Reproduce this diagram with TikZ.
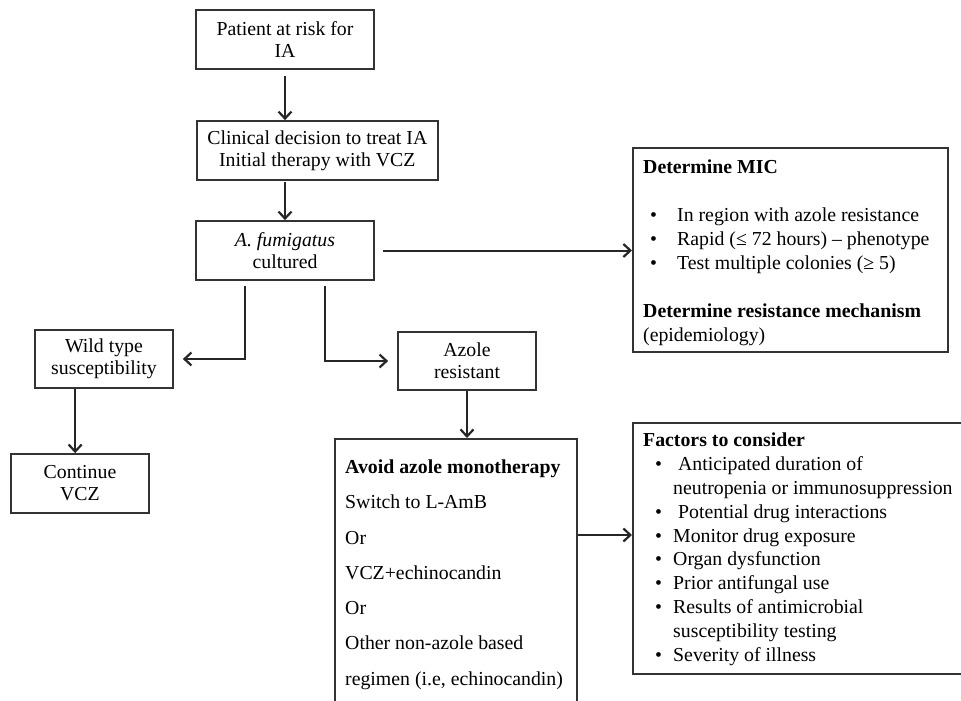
\documentclass[tikz,border=0pt]{standalone}
\usepackage{fontspec}
\setmainfont{Liberation Serif}
\usetikzlibrary{arrows.meta,calc}
\def\micitem#1{\makebox[34pt][l]{\hspace{7pt}\textbullet}#1}
\def\facitem#1{\makebox[30pt][l]{\hspace{12pt}\textbullet}#1}
\tikzset{
  box/.style={draw=black!80, line width=1.7pt, minimum width=178pt, minimum height=59pt,
    inner sep=0pt, align=center, font=\fontsize{19.8}{22}\selectfont},
  panel/.style={draw=black!80, line width=1.7pt, anchor=north west, inner sep=0pt},
  panetext/.style={anchor=north west, inner sep=0pt, align=left},
  flow/.style={draw=black!85, line width=2pt, -{Straight Barb[length=7pt,width=13pt,line width=2.2pt]}}
}

\begin{document}
\begin{tikzpicture}[x=1pt, y=-1pt]
		%%%%% FRAME %%%%%
		\useasboundingbox (0,0) rectangle (961,701);
		\clip (0,0) rectangle (961,701);
		
		%%%%% MAIN COLUMN %%%%%
		\node[box] (risk) at (285,39.5) {Patient at risk for\\IA};
		\node[box, minimum width=241pt] (decide) at (317.3,150.5) {Clinical decision to treat IA\\Initial therapy with VCZ};
		\node[box] (cult) at (285,250.5) {\textit{A. fumigatus}\\cultured};
		
		\node[box, minimum width=138pt, minimum height=58pt] (wild) at (104,359) {Wild type\\susceptibility};
		\node[box, minimum width=138pt] (cont) at (80,483.5) {Continue\\VCZ};
		\node[box, minimum width=138pt, minimum height=58pt] (azole) at (467,361) {Azole\\resistant};
		
		%%%%% PANELS %%%%%
		\node[panel, minimum width=315pt, minimum height=204pt] (mic) at (632,147) {};
		\node[panetext, font=\fontsize{19.8}{24}\selectfont] (mictext) at (643,159.5)
			{\textbf{Determine MIC}\\[24pt]
			\micitem{In region with azole resistance}\\
			\micitem{Rapid (≤ 72 hours) – phenotype}\\
			\micitem{Test multiple colonies (≥ 5)}\\[24pt]
			\textbf{Determine resistance mechanism}\\
			(epidemiology)};
		
		\node[panel, minimum width=242pt, minimum height=300pt] (avoid) at (334,438) {};
		\node[panetext, font=\fontsize{19.8}{35.3}\selectfont] (avoidtext) at (345,459.5)
			{\textbf{Avoid azole monotherapy}\\
			Switch to L-AmB\\
			Or\\
			VCZ+echinocandin\\
			Or\\
			Other non-azole based\\
			regimen (i.e, echinocandin)};
		
		\node[panel, minimum width=360pt, minimum height=251pt] (factors) at (632,422) {};
		\node[panetext, font=\fontsize{19.8}{23.9}\selectfont] (factext) at (643,432.5)
			{\textbf{Factors to consider}\\
			\facitem{\ Anticipated duration of}\\
			\hspace*{30pt}neutropenia or immunosuppression\\
			\facitem{\ Potential drug interactions}\\
			\facitem{Monitor drug exposure}\\
			\facitem{Organ dysfunction}\\
			\facitem{Prior antifungal use}\\
			\facitem{Results of antimicrobial}\\
			\hspace*{30pt}susceptibility testing\\
			\facitem{Severity of illness}};
		
		%%%%% ARROWS %%%%%
		\coordinate (cl) at ($(cult.south)+(-40,0)$);
		\coordinate (cr) at ($(cult.south)+(40,0)$);
		\coordinate (wl) at ($(wild.south west)+(41,0)$);
		\coordinate (ar) at ($(avoid.north east)+(0,97)$);
		
		\draw[flow, shorten <=6pt] (risk.south) -- (risk.south |- decide.north);
		\draw[flow, shorten <=1pt] (decide.south -| risk.south) -- (cult.north);
		\draw[flow, shorten <=8pt] (cult.east) -- (cult.east -| mic.west);
		\draw[flow, shorten <=5pt, shorten >=9pt] (cl) |- (wild.east);
		\draw[flow, shorten <=5pt, shorten >=9pt] (cr) |- (azole.west);
		\draw[flow] (wl) -- (wl |- cont.north);
		\draw[flow] (azole.south) -- (azole.south |- avoid.north);
		\draw[flow] (ar) -- (ar -| factors.west);
		
		%%%%% END %%%%%
\end{tikzpicture}
\end{document}
